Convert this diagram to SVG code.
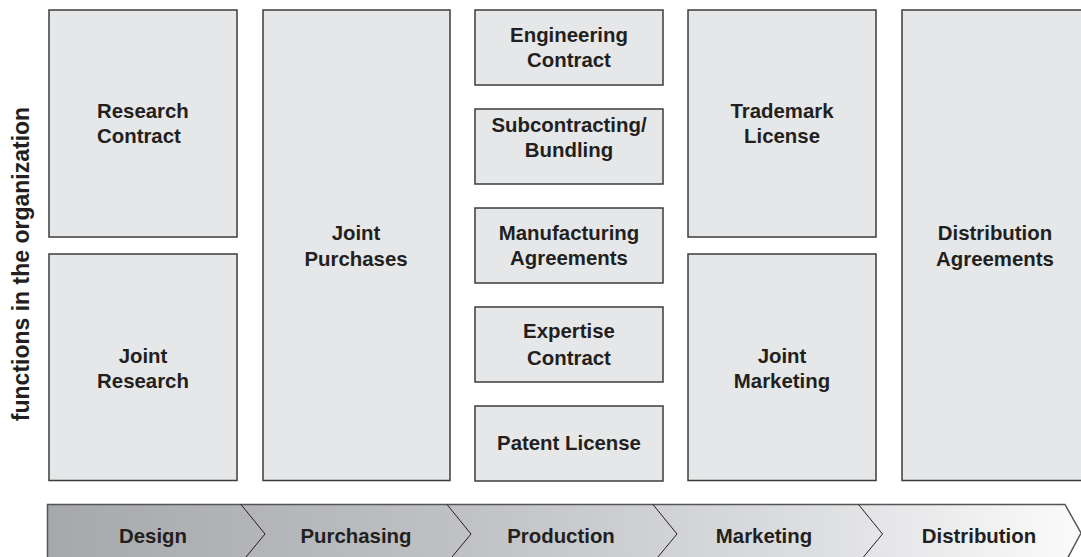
<svg xmlns="http://www.w3.org/2000/svg" width="1081" height="557" viewBox="0 0 1081 557">
  <defs>
    <linearGradient id="chainFill" x1="47" y1="0" x2="1081" y2="0" gradientUnits="userSpaceOnUse">
      <stop offset="0" stop-color="#a6a8ab"/>
      <stop offset="0.4" stop-color="#c0c1c4"/>
      <stop offset="0.75" stop-color="#dedfe1"/>
      <stop offset="1" stop-color="#fbfbfb"/>
    </linearGradient>
    <style>
      .box { fill: #e6e7e8; stroke: #3c3c3c; stroke-width: 1.5; }
      .lbl { font-family: "Liberation Sans", Arial, Helvetica, sans-serif; font-weight: bold; font-size: 20.4px; fill: #231f20; text-anchor: middle; }
      .lft { text-anchor: start; }
      .axis { font-size: 23px; }
      .chev { fill: none; stroke: #231f20; stroke-width: 1; }
    </style>
  </defs>
  <rect width="1081" height="557" fill="#ffffff"/>

  <!-- vertical axis label -->
  <text class="lbl axis" transform="translate(29,264) rotate(-90)">functions in the organization</text>

  <!-- Design column -->
  <g id="research-contract">
    <rect class="box" x="49" y="10" width="188" height="227"/>
    <text class="lbl lft" x="97" y="118">Research</text>
    <text class="lbl lft" x="97" y="143">Contract</text>
  </g>
  <g id="joint-research">
    <rect class="box" x="49" y="254" width="188" height="226.5"/>
    <text class="lbl" x="143" y="363">Joint</text>
    <text class="lbl" x="143" y="388">Research</text>
  </g>

  <!-- Purchasing column -->
  <g id="joint-purchases">
    <rect class="box" x="263" y="10" width="187" height="470.5"/>
    <text class="lbl" x="356" y="240">Joint</text>
    <text class="lbl" x="356" y="265.5">Purchases</text>
  </g>

  <!-- Production column -->
  <g id="engineering-contract">
    <rect class="box" x="475" y="10" width="188" height="75"/>
    <text class="lbl" x="569" y="41.5">Engineering</text>
    <text class="lbl" x="569" y="66.5">Contract</text>
  </g>
  <g id="subcontracting">
    <rect class="box" x="475" y="109" width="188" height="75"/>
    <text class="lbl" x="569" y="131.5">Subcontracting/</text>
    <text class="lbl" x="569" y="156.5">Bundling</text>
  </g>
  <g id="manufacturing-agreements">
    <rect class="box" x="475" y="208" width="188" height="75"/>
    <text class="lbl" x="569" y="240">Manufacturing</text>
    <text class="lbl" x="569" y="265">Agreements</text>
  </g>
  <g id="expertise-contract">
    <rect class="box" x="475" y="307" width="188" height="75"/>
    <text class="lbl" x="569" y="338">Expertise</text>
    <text class="lbl" x="569" y="364.5">Contract</text>
  </g>
  <g id="patent-license">
    <rect class="box" x="475" y="406" width="188" height="75"/>
    <text class="lbl" x="569" y="450">Patent License</text>
  </g>

  <!-- Marketing column -->
  <g id="trademark-license">
    <rect class="box" x="688" y="10" width="188" height="227"/>
    <text class="lbl" x="782" y="118">Trademark</text>
    <text class="lbl" x="782" y="143">License</text>
  </g>
  <g id="joint-marketing">
    <rect class="box" x="688" y="254" width="188" height="226.5"/>
    <text class="lbl" x="782" y="363">Joint</text>
    <text class="lbl" x="782" y="388">Marketing</text>
  </g>

  <!-- Distribution column -->
  <g id="distribution-agreements">
    <rect class="box" x="902" y="10" width="188" height="470.5"/>
    <text class="lbl" x="995" y="240">Distribution</text>
    <text class="lbl" x="995" y="265.5">Agreements</text>
  </g>

  <!-- value chain bar -->
  <g id="value-chain">
    <path d="M47.5,504.5 H1065 L1081,533 L1065,563 H47.5 Z" fill="url(#chainFill)" stroke="#555" stroke-width="1.5"/>
    <g id="connectors">
      <path class="chev" d="M241,504.5 L265,534 L241,563"/>
      <path class="chev" d="M447,504.5 L471,534 L447,563"/>
      <path class="chev" d="M653,504.5 L677,534 L653,563"/>
      <path class="chev" d="M858.5,504.5 L882.5,534 L858.5,563"/>
    </g>
    <text class="lbl" x="153" y="543">Design</text>
    <text class="lbl" x="356" y="543">Purchasing</text>
    <text class="lbl" x="561" y="543">Production</text>
    <text class="lbl" x="764" y="543">Marketing</text>
    <text class="lbl" x="979" y="543">Distribution</text>
  </g>
</svg>
